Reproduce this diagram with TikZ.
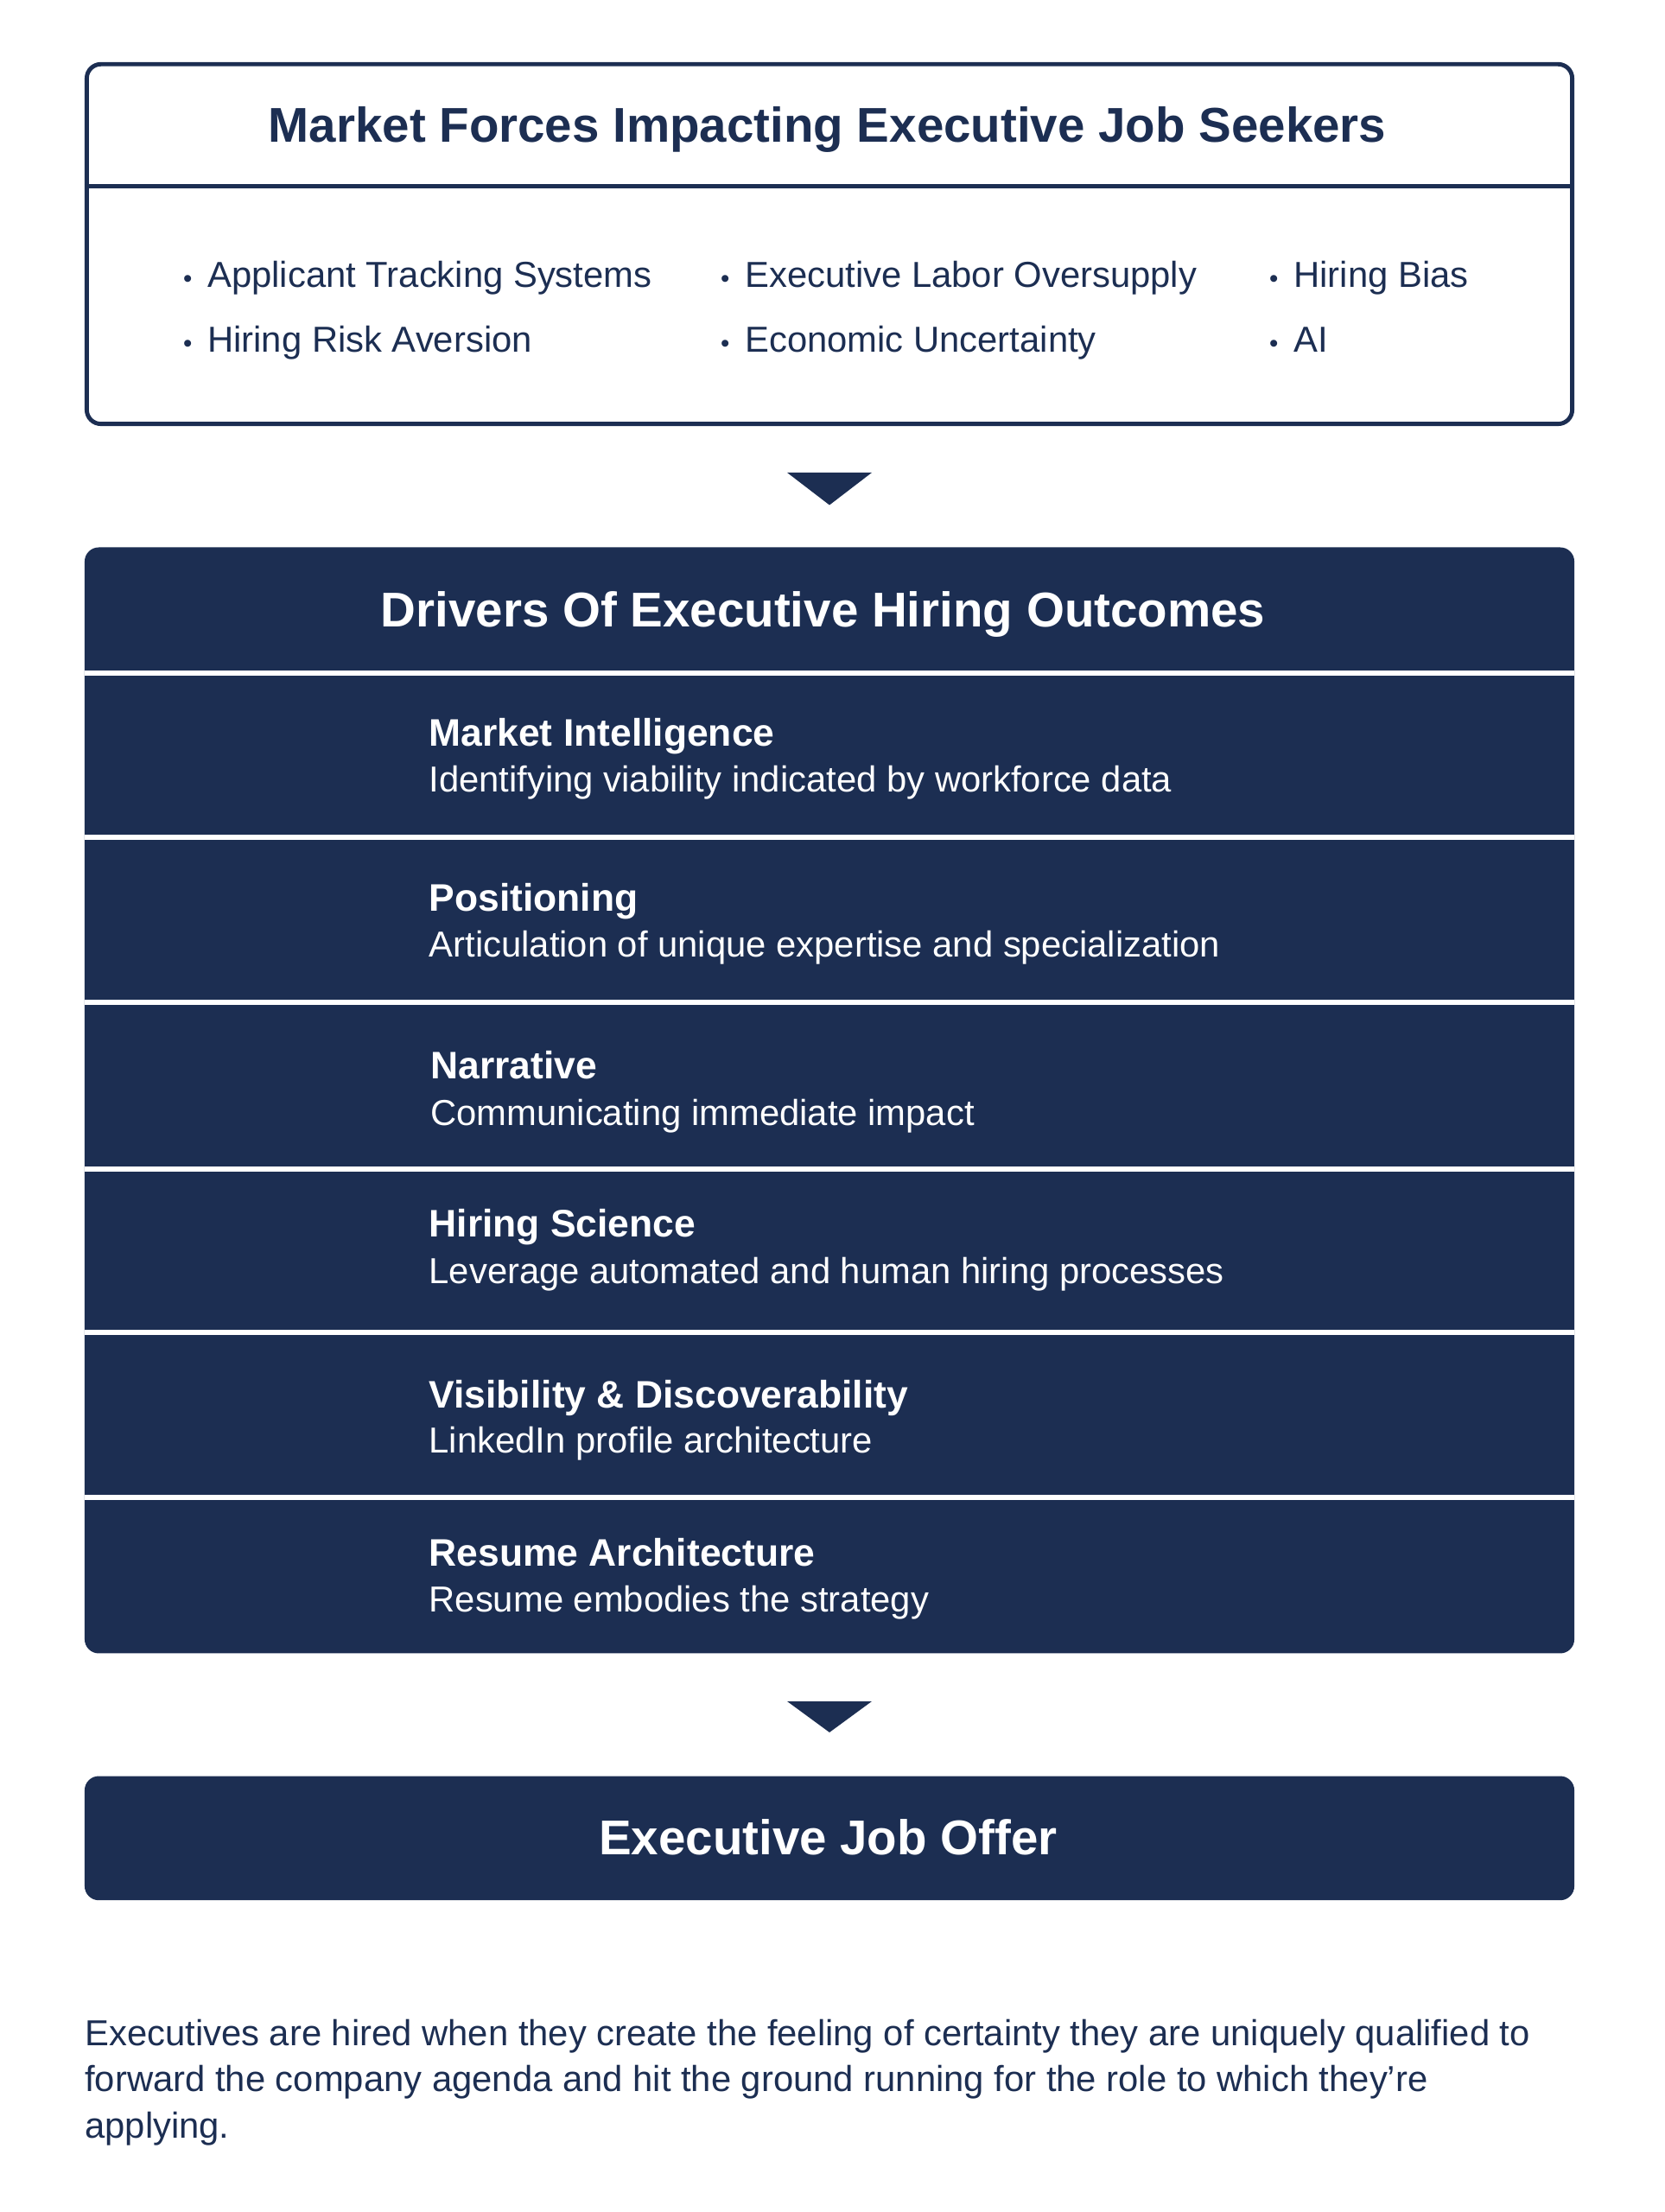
\documentclass[tikz,border=0pt]{standalone}
\usepackage{fontspec}
\setmainfont{Liberation Sans}
\usepackage{xcolor}
\usepackage{tikz}
\usetikzlibrary{
    positioning
}
\definecolor{navy}{HTML}{1C2E52}
\newcommand{\dotitem}{\llap{{\fontsize{18}{18}\selectfont\textbullet}\hspace{11pt}}}

\begin{document}
\begin{tikzpicture}[x=1pt,y=-1pt,inner sep=0pt,text=navy]
    \tikzstyle{panel}=[shape=rectangle, rounded corners=10pt, minimum width=1056pt]
    \tikzstyle{bigtitle}=[anchor=base, font=\fontsize{34.6}{40}\selectfont\bfseries]
    \tikzstyle{item}=[anchor=base west, font=\fontsize{25.6}{30}\selectfont]
    \tikzstyle{drvtitle}=[anchor=base west, text=white, font=\fontsize{27.2}{30}\selectfont\bfseries]
    \tikzstyle{drvtext}=[anchor=base west, text=white, font=\fontsize{25.6}{30}\selectfont]
    \tikzstyle{gap}=[white, line width=3.5pt]
    \tikzstyle{pointer}=[fill=navy]
    \useasboundingbox (0,0) rectangle (1179.7,1568);
    % market forces
    \node[panel, draw=navy, line width=3pt, minimum width=1053pt, minimum height=255pt] (forces) at (588,173) {};
    \draw[navy, line width=3pt] (forces.west |- 0,132) -- (forces.east |- 0,132);
    \node[bigtitle] (forcesttl) at (586.5,100.5) {Market Forces Impacting Executive Job Seekers};
    \node[item] (ats) at (147,203.6) {\dotitem Applicant Tracking Systems};
    \node[item] (risk) at (147,249.6) {\dotitem Hiring Risk Aversion};
    \node[item] (supply) at (528,203.6) {\dotitem Executive Labor Oversupply};
    \node[item] (econ) at (528,249.6) {\dotitem Economic Uncertainty};
    \node[item] (bias) at (917,203.6) {\dotitem Hiring Bias};
    \node[item] (ai) at (917,249.6) {\dotitem AI};
    \fill[pointer] (558,335) -- (618,335) -- (588,358) -- cycle;
    % drivers
    \node[panel, fill=navy, minimum height=784pt] (drivers) at (588,780) {};
    \node[bigtitle, text=white] (drvttl) at (583.5,444.5) {Drivers Of Executive Hiring Outcomes};
    \draw[gap] (drivers.west |- 0,477) -- (drivers.east |- 0,477);
    \draw[gap] (drivers.west |- 0,593.5) -- (drivers.east |- 0,593.5);
    \draw[gap] (drivers.west |- 0,710.5) -- (drivers.east |- 0,710.5);
    \draw[gap] (drivers.west |- 0,828.5) -- (drivers.east |- 0,828.5);
    \draw[gap] (drivers.west |- 0,944.5) -- (drivers.east |- 0,944.5);
    \draw[gap] (drivers.west |- 0,1061.5) -- (drivers.east |- 0,1061.5);
    \node[drvtitle] (intel) at (304,529) {Market Intelligence};
    \node[drvtext] (intelsub) at (304,561.6) {Identifying viability indicated by workforce data};
    \node[drvtitle] (pos) at (304,646) {Positioning};
    \node[drvtext] (possub) at (304,678.6) {Articulation of unique expertise and specialization};
    \node[drvtitle] (narr) at (305,765) {Narrative};
    \node[drvtext] (narrsub) at (305,797.6) {Communicating immediate impact};
    \node[drvtitle] (sci) at (304,877) {Hiring Science};
    \node[drvtext] (scisub) at (304,909.6) {Leverage automated and human hiring processes};
    \node[drvtitle] (vis) at (304,998) {Visibility \& Discoverability};
    \node[drvtext] (vissub) at (304,1029.6) {LinkedIn profile architecture};
    \node[drvtitle] (res) at (304,1110) {Resume Architecture};
    \node[drvtext] (ressub) at (304,1142.6) {Resume embodies the strategy};
    \fill[pointer] (558,1206) -- (618,1206) -- (588,1228) -- cycle;
    % offer
    \node[panel, fill=navy, minimum height=88pt] (offer) at (588,1303) {};
    \node[bigtitle, text=white] (offerttl) at (587,1314.5) {Executive Job Offer};
    \node[anchor=west, align=left, font=\fontsize{25.6}{32.7}\selectfont] (note) at (60,1476) {Executives are hired when they create the feeling of certainty they are uniquely qualified to\\forward the company agenda and hit the ground running for the role to which they’re\\applying.};
\end{tikzpicture}
\end{document}
